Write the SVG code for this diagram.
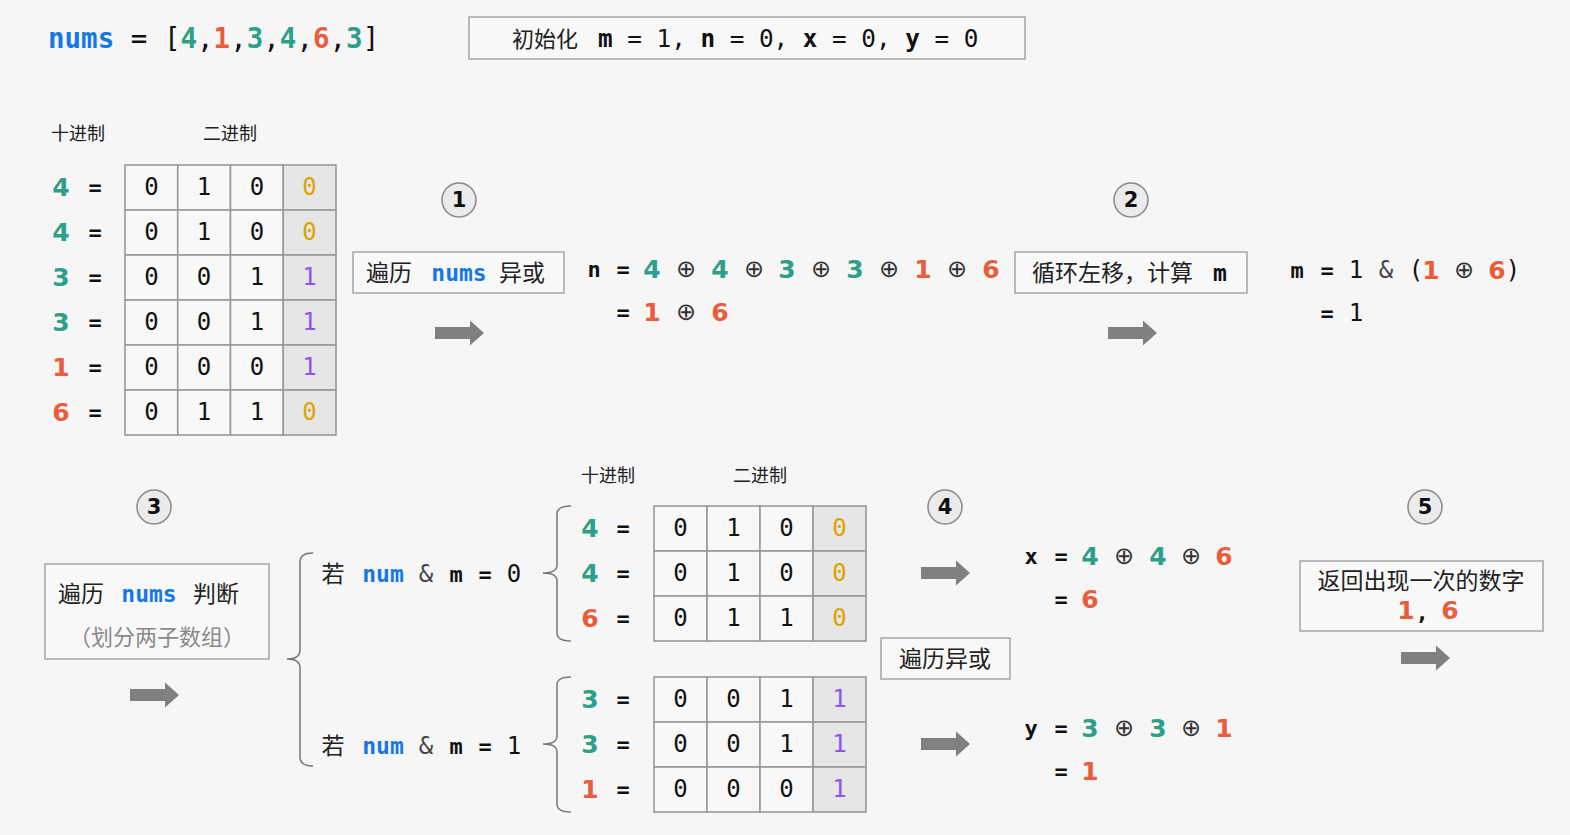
<svg xmlns="http://www.w3.org/2000/svg" width="1570" height="835" viewBox="0 0 1570 835">
<defs>
<style>
.bg{fill:#f6f6f6}
.box{fill:#f8f8f8;stroke:#aaa;stroke-width:1.6}
.cell{fill:#f8f8f8;stroke:#999;stroke-width:1.6}
.shade{fill:#e6e6e6;stroke:#999;stroke-width:1.6}
.cn{font-family:"Noto Sans CJK SC",sans-serif;fill:#222}
.mono{font-family:"DejaVu Sans Mono","Liberation Mono",monospace;fill:#111}
.b{font-weight:bold}
.dig{font-family:"DejaVu Sans Mono",monospace;font-size:24px;text-anchor:middle;dominant-baseline:central;fill:#111}
.amp{fill:#444}
.lab{font-family:"DejaVu Sans",sans-serif;font-weight:bold;font-size:25px;text-anchor:middle;dominant-baseline:central}
.eq{font-family:"DejaVu Sans Mono",monospace;font-weight:bold;font-size:22px;text-anchor:middle;dominant-baseline:central;fill:#111}
.ex{font-family:"DejaVu Sans",sans-serif;font-size:24px;text-anchor:middle;dominant-baseline:central;fill:#333}
.step circle{fill:#ebebeb;stroke:#888;stroke-width:1.5}
.step text{font-family:"DejaVu Sans",sans-serif;font-weight:bold;font-size:21px;text-anchor:middle;dominant-baseline:central;fill:#111}
.arrow{fill:#808080}
.brace{fill:none;stroke:#777;stroke-width:1.5}
.hdr{font-family:"Noto Sans CJK SC",sans-serif;font-size:18px;fill:#222;text-anchor:middle}
.t{fill:#2e9f88}
.o{fill:#e85d3b}
.bl{fill:#1677e6}
.g{fill:#dca400}
.p{fill:#9052f2}
.gr{fill:#8a8a8a}
</style>
<path id="arr" d="M0,-6 H35 V-12.5 L49,0 L35,12.5 V6 H0 Z"/>
</defs>
<rect class="bg" x="0" y="0" width="1570" height="835"/>

<g id="title">
<text class="mono" x="48" y="48" font-size="27.5" xml:space="preserve"><tspan class="b bl">nums</tspan> = [<tspan class="b t">4</tspan>,<tspan class="b o">1</tspan>,<tspan class="b t">3</tspan>,<tspan class="b t">4</tspan>,<tspan class="b o">6</tspan>,<tspan class="b t">3</tspan>]</text>
</g>

<g id="init">
<rect class="box" x="469" y="17" width="556" height="42"/>
<text class="cn" x="512" y="47" font-size="22">初始化</text>
<text class="mono" x="598" y="47" font-size="24.3" xml:space="preserve"><tspan class="b">m</tspan> = 1, <tspan class="b">n</tspan> = 0, <tspan class="b">x</tspan> = 0, <tspan class="b">y</tspan> = 0</text>
</g>

<g id="table1">
<text class="hdr" x="78" y="140">十进制</text>
<text class="hdr" x="230" y="140">二进制</text>
<g>
<rect class="cell" x="125" y="165" width="52.75" height="45"/><rect class="cell" x="177.75" y="165" width="52.75" height="45"/><rect class="cell" x="230.5" y="165" width="52.75" height="45"/><rect class="shade" x="283.25" y="165" width="52.75" height="45"/>
<rect class="cell" x="125" y="210" width="52.75" height="45"/><rect class="cell" x="177.75" y="210" width="52.75" height="45"/><rect class="cell" x="230.5" y="210" width="52.75" height="45"/><rect class="shade" x="283.25" y="210" width="52.75" height="45"/>
<rect class="cell" x="125" y="255" width="52.75" height="45"/><rect class="cell" x="177.75" y="255" width="52.75" height="45"/><rect class="cell" x="230.5" y="255" width="52.75" height="45"/><rect class="shade" x="283.25" y="255" width="52.75" height="45"/>
<rect class="cell" x="125" y="300" width="52.75" height="45"/><rect class="cell" x="177.75" y="300" width="52.75" height="45"/><rect class="cell" x="230.5" y="300" width="52.75" height="45"/><rect class="shade" x="283.25" y="300" width="52.75" height="45"/>
<rect class="cell" x="125" y="345" width="52.75" height="45"/><rect class="cell" x="177.75" y="345" width="52.75" height="45"/><rect class="cell" x="230.5" y="345" width="52.75" height="45"/><rect class="shade" x="283.25" y="345" width="52.75" height="45"/>
<rect class="cell" x="125" y="390" width="52.75" height="45"/><rect class="cell" x="177.75" y="390" width="52.75" height="45"/><rect class="cell" x="230.5" y="390" width="52.75" height="45"/><rect class="shade" x="283.25" y="390" width="52.75" height="45"/>
</g>
<text class="lab t" x="61" y="187">4</text><text class="eq" x="95" y="187">=</text>
<text class="lab t" x="61" y="232">4</text><text class="eq" x="95" y="232">=</text>
<text class="lab t" x="61" y="277">3</text><text class="eq" x="95" y="277">=</text>
<text class="lab t" x="61" y="322">3</text><text class="eq" x="95" y="322">=</text>
<text class="lab o" x="61" y="367">1</text><text class="eq" x="95" y="367">=</text>
<text class="lab o" x="61" y="412">6</text><text class="eq" x="95" y="412">=</text>
<text class="dig" x="151.4" y="187">0</text><text class="dig" x="204.1" y="187">1</text><text class="dig" x="256.9" y="187">0</text><text class="dig g" x="309.6" y="187">0</text>
<text class="dig" x="151.4" y="232">0</text><text class="dig" x="204.1" y="232">1</text><text class="dig" x="256.9" y="232">0</text><text class="dig g" x="309.6" y="232">0</text>
<text class="dig" x="151.4" y="277">0</text><text class="dig" x="204.1" y="277">0</text><text class="dig" x="256.9" y="277">1</text><text class="dig p" x="309.6" y="277">1</text>
<text class="dig" x="151.4" y="322">0</text><text class="dig" x="204.1" y="322">0</text><text class="dig" x="256.9" y="322">1</text><text class="dig p" x="309.6" y="322">1</text>
<text class="dig" x="151.4" y="367">0</text><text class="dig" x="204.1" y="367">0</text><text class="dig" x="256.9" y="367">0</text><text class="dig p" x="309.6" y="367">1</text>
<text class="dig" x="151.4" y="412">0</text><text class="dig" x="204.1" y="412">1</text><text class="dig" x="256.9" y="412">1</text><text class="dig g" x="309.6" y="412">0</text>
</g>

<g id="step1" class="step"><circle cx="459" cy="200" r="17"/><text x="459" y="200">1</text></g>
<g id="box1">
<rect class="box" x="353" y="252" width="211" height="41"/>
<text class="cn" x="366" y="281" font-size="23">遍历</text>
<text class="mono b bl" x="459" y="281" font-size="23" text-anchor="middle">nums</text>
<text class="cn" x="499" y="281" font-size="23">异或</text>
</g>

<g id="exprN">
<text class="eq" x="594" y="269">n</text><text class="eq" x="623" y="269">=</text>
<text class="lab t" x="652" y="269">4</text><text class="ex" x="686" y="269">⊕</text>
<text class="lab t" x="720" y="269">4</text><text class="ex" x="754" y="269">⊕</text>
<text class="lab t" x="787" y="269">3</text><text class="ex" x="821" y="269">⊕</text>
<text class="lab t" x="855" y="269">3</text><text class="ex" x="889" y="269">⊕</text>
<text class="lab o" x="923" y="269">1</text><text class="ex" x="957" y="269">⊕</text>
<text class="lab o" x="991" y="269">6</text>
<text class="eq" x="623" y="312">=</text><text class="lab o" x="652" y="312">1</text><text class="ex" x="686" y="312">⊕</text><text class="lab o" x="720" y="312">6</text>
</g>

<g id="step2" class="step"><circle cx="1131" cy="200" r="17"/><text x="1131" y="200">2</text></g>
<g id="box2">
<rect class="box" x="1015" y="252" width="232" height="41"/>
<text class="cn" x="1032" y="281" font-size="23">循环左移，计算</text>
<text class="mono b" x="1220" y="281" font-size="23" text-anchor="middle">m</text>
</g>

<g id="exprM">
<text class="eq" x="1297" y="270">m</text><text class="eq" x="1327" y="270">=</text>
<text class="dig" x="1356" y="270">1</text><text class="dig amp" x="1386" y="270">&amp;</text>
<text class="dig" x="1416" y="270">(</text>
<text class="lab o" x="1431" y="270">1</text><text class="ex" x="1464" y="270">⊕</text><text class="lab o" x="1497" y="270">6</text>
<text class="dig" x="1513" y="270">)</text>
<text class="eq" x="1327" y="313">=</text><text class="dig" x="1356" y="313">1</text>
</g>

<g id="step3" class="step"><circle cx="154" cy="507" r="17"/><text x="154" y="507">3</text></g>
<g id="box3">
<rect class="box" x="45" y="564" width="224" height="95"/>
<text class="cn" x="58" y="602" font-size="23">遍历</text>
<text class="mono b bl" x="149" y="602" font-size="23" text-anchor="middle">nums</text>
<text class="cn" x="193" y="602" font-size="23">判断</text>
<text class="cn gr" x="157" y="645" font-size="22" text-anchor="middle">（划分两子数组）</text>
</g>

<g id="conds">
<text class="cn" x="333" y="582" font-size="23" text-anchor="middle">若</text>
<text class="mono b bl" x="383" y="582" font-size="23" text-anchor="middle">num</text>
<text class="dig amp" x="426" y="574">&amp;</text><text class="eq" x="456" y="574">m</text><text class="eq" x="485" y="574">=</text><text class="dig" x="514" y="574">0</text>
<text class="cn" x="333" y="754" font-size="23" text-anchor="middle">若</text>
<text class="mono b bl" x="383" y="754" font-size="23" text-anchor="middle">num</text>
<text class="dig amp" x="426" y="746">&amp;</text><text class="eq" x="456" y="746">m</text><text class="eq" x="485" y="746">=</text><text class="dig" x="514" y="746">1</text>
</g>

<g id="table2">
<text class="hdr" x="608" y="482">十进制</text>
<text class="hdr" x="760" y="482">二进制</text>
<rect class="cell" x="654" y="506" width="53" height="45"/><rect class="cell" x="707" y="506" width="53" height="45"/><rect class="cell" x="760" y="506" width="53" height="45"/><rect class="shade" x="813" y="506" width="53" height="45"/>
<rect class="cell" x="654" y="551" width="53" height="45"/><rect class="cell" x="707" y="551" width="53" height="45"/><rect class="cell" x="760" y="551" width="53" height="45"/><rect class="shade" x="813" y="551" width="53" height="45"/>
<rect class="cell" x="654" y="596" width="53" height="45"/><rect class="cell" x="707" y="596" width="53" height="45"/><rect class="cell" x="760" y="596" width="53" height="45"/><rect class="shade" x="813" y="596" width="53" height="45"/>
<text class="lab t" x="590" y="528">4</text><text class="eq" x="623" y="528">=</text>
<text class="lab t" x="590" y="573">4</text><text class="eq" x="623" y="573">=</text>
<text class="lab o" x="590" y="618">6</text><text class="eq" x="623" y="618">=</text>
<text class="dig" x="680.5" y="528">0</text><text class="dig" x="733.5" y="528">1</text><text class="dig" x="786.5" y="528">0</text><text class="dig g" x="839.5" y="528">0</text>
<text class="dig" x="680.5" y="573">0</text><text class="dig" x="733.5" y="573">1</text><text class="dig" x="786.5" y="573">0</text><text class="dig g" x="839.5" y="573">0</text>
<text class="dig" x="680.5" y="618">0</text><text class="dig" x="733.5" y="618">1</text><text class="dig" x="786.5" y="618">1</text><text class="dig g" x="839.5" y="618">0</text>
</g>

<g id="table3">
<rect class="cell" x="654" y="677" width="53" height="45"/><rect class="cell" x="707" y="677" width="53" height="45"/><rect class="cell" x="760" y="677" width="53" height="45"/><rect class="shade" x="813" y="677" width="53" height="45"/>
<rect class="cell" x="654" y="722" width="53" height="45"/><rect class="cell" x="707" y="722" width="53" height="45"/><rect class="cell" x="760" y="722" width="53" height="45"/><rect class="shade" x="813" y="722" width="53" height="45"/>
<rect class="cell" x="654" y="767" width="53" height="45"/><rect class="cell" x="707" y="767" width="53" height="45"/><rect class="cell" x="760" y="767" width="53" height="45"/><rect class="shade" x="813" y="767" width="53" height="45"/>
<text class="lab t" x="590" y="699">3</text><text class="eq" x="623" y="699">=</text>
<text class="lab t" x="590" y="744">3</text><text class="eq" x="623" y="744">=</text>
<text class="lab o" x="590" y="789">1</text><text class="eq" x="623" y="789">=</text>
<text class="dig" x="680.5" y="699">0</text><text class="dig" x="733.5" y="699">0</text><text class="dig" x="786.5" y="699">1</text><text class="dig p" x="839.5" y="699">1</text>
<text class="dig" x="680.5" y="744">0</text><text class="dig" x="733.5" y="744">0</text><text class="dig" x="786.5" y="744">1</text><text class="dig p" x="839.5" y="744">1</text>
<text class="dig" x="680.5" y="789">0</text><text class="dig" x="733.5" y="789">0</text><text class="dig" x="786.5" y="789">0</text><text class="dig p" x="839.5" y="789">1</text>
</g>

<g id="step4" class="step"><circle cx="945" cy="507" r="17"/><text x="945" y="507">4</text></g>
<g id="box4">
<rect class="box" x="881" y="638" width="129" height="41"/>
<text class="cn" x="945" y="667" font-size="23" text-anchor="middle">遍历异或</text>
</g>

<g id="exprX">
<text class="eq" x="1031" y="556">x</text><text class="eq" x="1061" y="556">=</text>
<text class="lab t" x="1090" y="556">4</text><text class="ex" x="1124" y="556">⊕</text>
<text class="lab t" x="1158" y="556">4</text><text class="ex" x="1191" y="556">⊕</text>
<text class="lab o" x="1224" y="556">6</text>
<text class="eq" x="1061" y="599">=</text><text class="lab o" x="1090" y="599">6</text>
</g>
<g id="exprY">
<text class="eq" x="1031" y="728">y</text><text class="eq" x="1061" y="728">=</text>
<text class="lab t" x="1090" y="728">3</text><text class="ex" x="1124" y="728">⊕</text>
<text class="lab t" x="1158" y="728">3</text><text class="ex" x="1191" y="728">⊕</text>
<text class="lab o" x="1224" y="728">1</text>
<text class="eq" x="1061" y="771">=</text><text class="lab o" x="1090" y="771">1</text>
</g>

<g id="step5" class="step"><circle cx="1425" cy="507" r="17"/><text x="1425" y="507">5</text></g>
<g id="box5">
<rect class="box" x="1300" y="561" width="243" height="70"/>
<text class="cn" x="1421" y="589" font-size="23" text-anchor="middle">返回出现一次的数字</text>
<text class="lab o" x="1406" y="610" font-size="22">1</text>
<text class="eq" x="1422" y="612">,</text>
<text class="lab o" x="1450" y="610" font-size="22">6</text>
</g>

<g id="connectors">
<use href="#arr" class="arrow" x="435" y="333"/>
<use href="#arr" class="arrow" x="1108" y="333"/>
<use href="#arr" class="arrow" x="130" y="695"/>
<use href="#arr" class="arrow" x="921" y="573"/>
<use href="#arr" class="arrow" x="921" y="744"/>
<use href="#arr" class="arrow" x="1401" y="658"/>
<path class="brace" d="M313,553 Q300,553 300,562 V650 Q300,659 287,659 Q300,659 300,668 V757 Q300,766 313,766"/>
<path class="brace" d="M571,506 Q557,506 557,514 V565 Q557,573 543,573 Q557,573 557,581 V633 Q557,641 571,641"/>
<path class="brace" d="M571,677 Q557,677 557,685 V736 Q557,744 543,744 Q557,744 557,752 V804 Q557,812 571,812"/>
</g>
</svg>
